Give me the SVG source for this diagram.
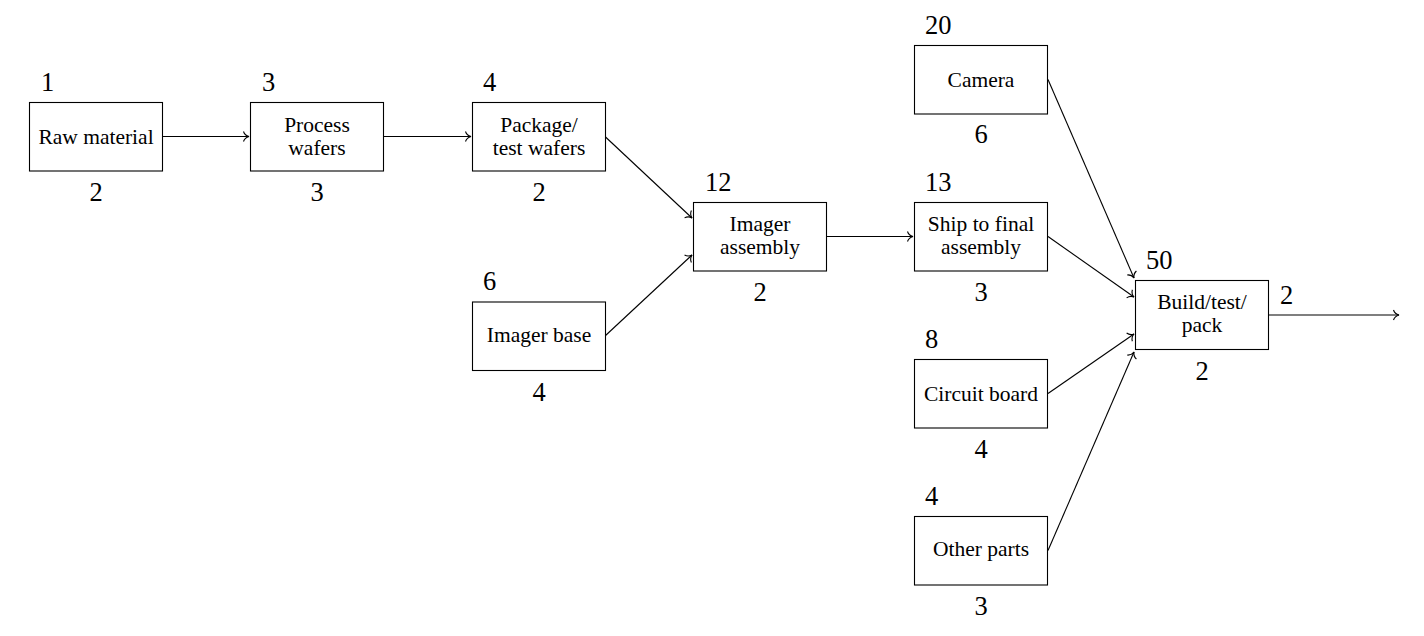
<svg xmlns="http://www.w3.org/2000/svg" width="1424" height="636" viewBox="0 0 1424 636">
<style>
.box{fill:#fff;stroke:#000;stroke-width:1.1}
.t{font-family:"Liberation Serif","Times New Roman","DejaVu Serif",serif;font-size:21.5px;text-anchor:middle;fill:#000}
.n{font-family:"Liberation Serif","Times New Roman","DejaVu Serif",serif;font-size:26.5px;fill:#000}
.c{text-anchor:middle}
.e{fill:none;stroke:#000;stroke-width:1.1;marker-end:url(#ah)}
</style>
<defs>
<marker id="ah" markerWidth="14" markerHeight="14" refX="0" refY="0" viewBox="-8 -7 10 14" orient="auto" markerUnits="userSpaceOnUse">
<path d="M-5.5,-5 C-4.5,-2 -2,-0.5 0,0 C-2,0.5 -4.5,2 -5.5,5" fill="none" stroke="#000" stroke-width="1.1"/>
</marker>
</defs>
<g id="connectors">
<line class="e" x1="162" y1="136.5" x2="249" y2="136.5"/>
<line class="e" x1="384" y1="136.5" x2="471" y2="136.5"/>
<line class="e" x1="605" y1="136.5" x2="692" y2="218"/>
<line class="e" x1="605" y1="336" x2="692" y2="255"/>
<line class="e" x1="827" y1="236.5" x2="913" y2="236.5"/>
<line class="e" x1="1048" y1="79.5" x2="1134" y2="278"/>
<line class="e" x1="1048" y1="236.5" x2="1134" y2="297"/>
<line class="e" x1="1048" y1="393.5" x2="1134" y2="334"/>
<line class="e" x1="1048" y1="550.5" x2="1134" y2="352"/>
<line class="e" x1="1269" y1="315" x2="1399" y2="315"/>
</g>
<g id="raw">
<rect class="box" x="29.5" y="102.5" width="133" height="68.5"/>
<text class="t" x="96" y="144">Raw material</text>
<text class="n" x="41" y="91">1</text>
<text class="n c" x="96" y="201">2</text>
</g>
<g id="process">
<rect class="box" x="250.5" y="102.5" width="133" height="68.5"/>
<text class="t" x="317" y="132">Process</text>
<text class="t" x="317" y="155">wafers</text>
<text class="n" x="262" y="91">3</text>
<text class="n c" x="317" y="201">3</text>
</g>
<g id="package">
<rect class="box" x="472.5" y="102.5" width="133" height="68.5"/>
<text class="t" x="539" y="132">Package/</text>
<text class="t" x="539" y="155">test wafers</text>
<text class="n" x="483" y="91">4</text>
<text class="n c" x="539" y="201">2</text>
</g>
<g id="imagerbase">
<rect class="box" x="472.5" y="302" width="133" height="68.5"/>
<text class="t" x="539" y="342">Imager base</text>
<text class="n" x="483" y="290">6</text>
<text class="n c" x="539" y="401">4</text>
</g>
<g id="imagerassembly">
<rect class="box" x="693.5" y="202.5" width="133" height="68.5"/>
<text class="t" x="760" y="231">Imager</text>
<text class="t" x="760" y="254">assembly</text>
<text class="n" x="705" y="191">12</text>
<text class="n c" x="760" y="301">2</text>
</g>
<g id="camera">
<rect class="box" x="914.5" y="45.5" width="133" height="68.5"/>
<text class="t" x="981" y="87">Camera</text>
<text class="n" x="925" y="34">20</text>
<text class="n c" x="981" y="143">6</text>
</g>
<g id="ship">
<rect class="box" x="914.5" y="202.5" width="133" height="68.5"/>
<text class="t" x="981" y="231">Ship to final</text>
<text class="t" x="981" y="254">assembly</text>
<text class="n" x="925" y="191">13</text>
<text class="n c" x="981" y="301">3</text>
</g>
<g id="circuit">
<rect class="box" x="914.5" y="359.5" width="133" height="68.5"/>
<text class="t" x="981" y="401">Circuit board</text>
<text class="n" x="925" y="348">8</text>
<text class="n c" x="981" y="458">4</text>
</g>
<g id="other">
<rect class="box" x="914.5" y="516.5" width="133" height="68.5"/>
<text class="t" x="981" y="556">Other parts</text>
<text class="n" x="925" y="505">4</text>
<text class="n c" x="981" y="615">3</text>
</g>
<g id="build">
<rect class="box" x="1135.5" y="280.5" width="133" height="69"/>
<text class="t" x="1202" y="309">Build/test/</text>
<text class="t" x="1202" y="332">pack</text>
<text class="n" x="1146" y="269">50</text>
<text class="n c" x="1202" y="380">2</text>
<text class="n" x="1280" y="304">2</text>
</g>
</svg>
